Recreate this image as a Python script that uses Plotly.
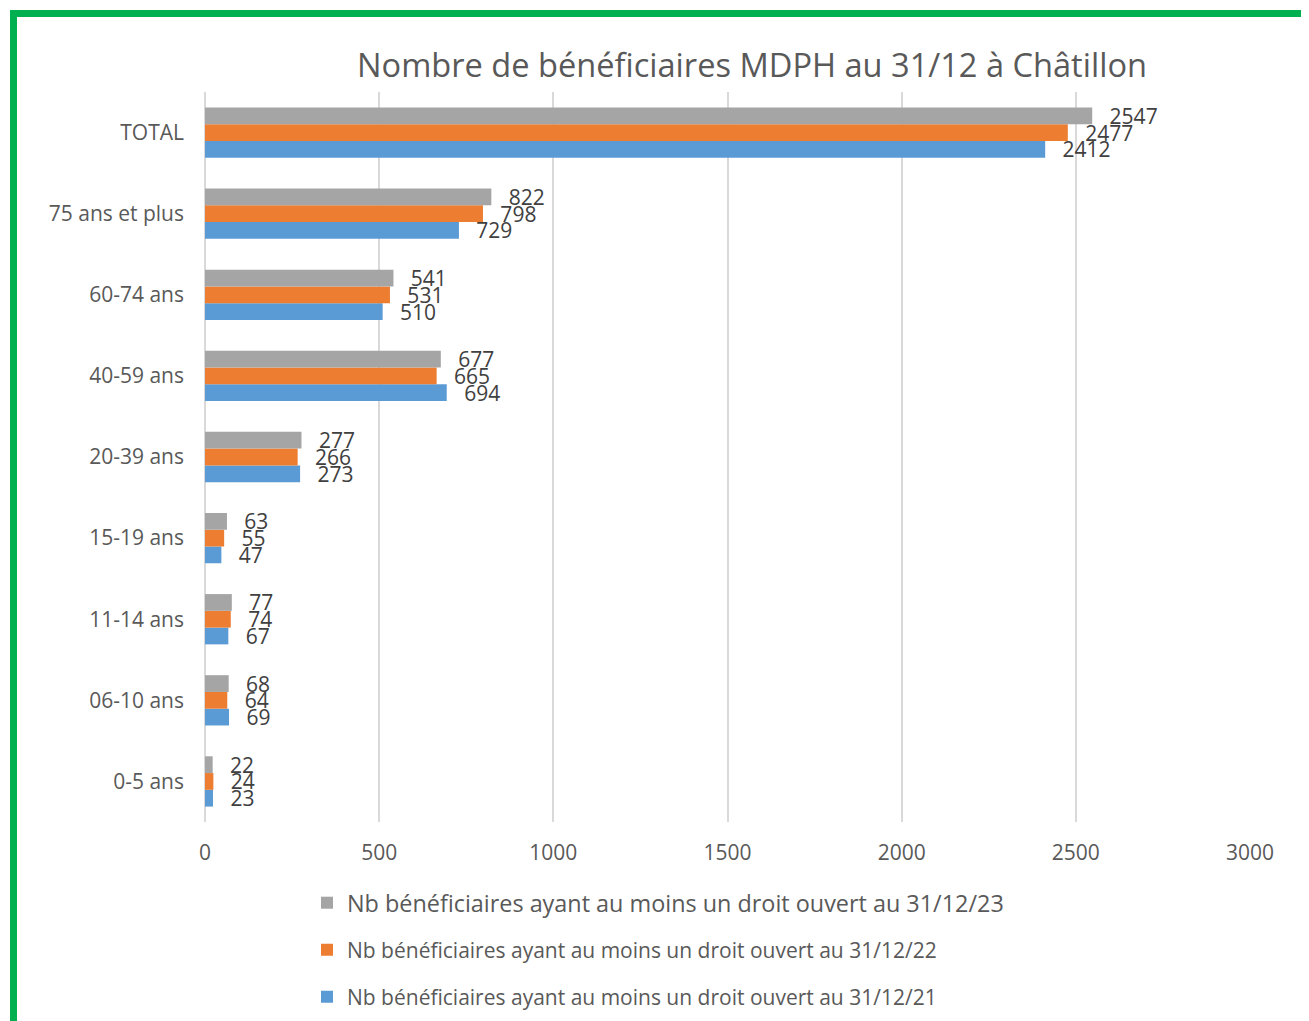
import plotly.graph_objects as go

categories = ["0-5 ans", "06-10 ans", "11-14 ans", "15-19 ans", "20-39 ans",
              "40-59 ans", "60-74 ans", "75 ans et plus", "TOTAL"]
vals_2021 = [23, 69, 67, 47, 273, 694, 510, 729, 2412]
vals_2022 = [24, 64, 74, 55, 266, 665, 531, 798, 2477]
vals_2023 = [22, 68, 77, 63, 277, 677, 541, 822, 2547]
series_names = [
    "Nb bénéficiaires ayant au moins un droit ouvert au 31/12/21",
    "Nb bénéficiaires ayant au moins un droit ouvert au 31/12/22",
    "Nb bénéficiaires ayant au moins un droit ouvert au 31/12/23",
]
x_ticks = [0, 500, 1000, 1500, 2000, 2500, 3000]
title_text = "Nombre de bénéficiaires MDPH au 31/12 à Châtillon"

colors = ["#5B9BD5", "#ED7D31", "#A5A5A5"]
FONT = "Open Sans"
OFF = 8  # page body margin
W, H = 1309 - OFF, 1021 - OFF
# plot area in page pixels
PL, PR, PT, PB = 205, 1250, 92, 822
L, R, T, B = PL - OFF, PR - OFF, PT - OFF, PB - OFF


def px_x(p):
    return (p - PL) / (PR - PL)


def px_y(p):
    return (PB - p) / (PB - PT)


def cx(p):
    return (p - OFF) / W


def cy(p):
    return 1 - (p - OFF) / H


fig = go.Figure()
legends = ["legend4", "legend3", "legend2"]
for vals, name, col, lg in zip([vals_2021, vals_2022, vals_2023], series_names, colors, legends):
    fig.add_trace(go.Bar(
        y=categories, x=vals, orientation="h", name=name,
        marker=dict(color=col, line=dict(width=0)),
        text=vals, texttemplate="\u00a0\u00a0\u2009%{x}", textposition="outside",
        textfont=dict(family=FONT, size=21, color="#404040"),
        constraintext="none", cliponaxis=False, legend=lg,
    ))

leg_common = dict(xanchor="left", yanchor="middle", xref="container", yref="container",
                  bgcolor="rgba(0,0,0,0)", itemwidth=30)
fig.update_layout(
    width=W, height=H,
    margin=dict(l=L, r=W - R, t=T, b=H - B, pad=0, autoexpand=False),
    paper_bgcolor="white", plot_bgcolor="white",
    barmode="group", bargap=0.38, bargroupgap=0,
    title=dict(text=title_text, x=px_x(752), xref="paper", xanchor="center",
               y=cy(66), yanchor="middle",
               font=dict(family=FONT, size=32.6, color="#595959")),
    xaxis=dict(range=[0, 3000], tickvals=x_ticks, showgrid=True,
               gridcolor="#D9D9D9", gridwidth=2, zeroline=True,
               zerolinecolor="#D9D9D9", zerolinewidth=2, showline=False,
               ticks="", ticklabelstandoff=16,
               tickfont=dict(family=FONT, size=21, color="#595959")),
    yaxis=dict(type="category", showgrid=False, zeroline=False, showline=False,
               ticks="", ticklabelstandoff=20,
               tickfont=dict(family=FONT, size=21, color="#595959")),
    legend2=dict(x=cx(307), y=cy(903), font=dict(family=FONT, size=23.4, color="#595959"), **leg_common),
    legend3=dict(x=cx(307), y=cy(950), font=dict(family=FONT, size=21, color="#595959"), **leg_common),
    legend4=dict(x=cx(307), y=cy(997), font=dict(family=FONT, size=21, color="#595959"), **leg_common),
    shapes=[dict(type="rect", xref="paper", yref="paper",
                 x0=px_x(13.5), x1=px_x(1340), y0=px_y(1050), y1=px_y(13.5),
                 line=dict(color="#00B050", width=7), fillcolor="rgba(0,0,0,0)",
                 layer="above")],
)

fig.write_html("out.html")
